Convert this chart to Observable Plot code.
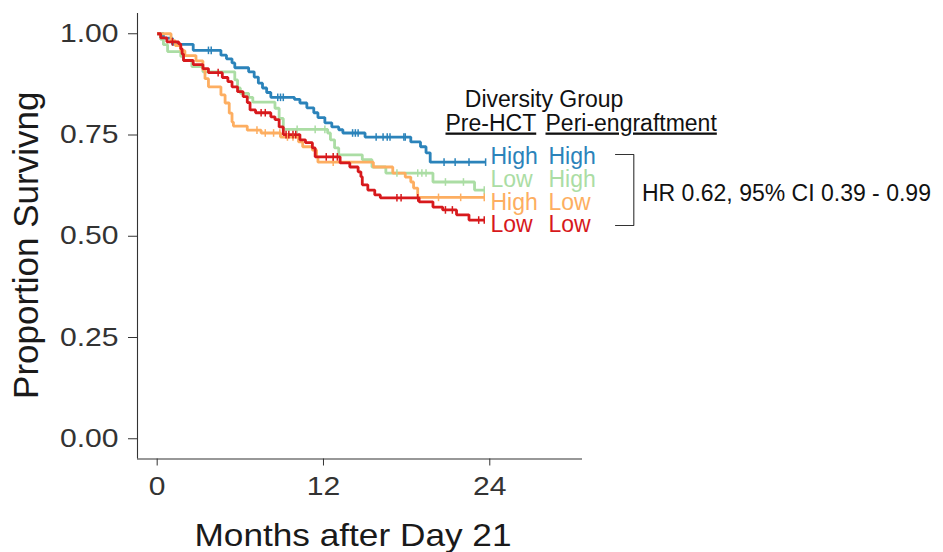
<!DOCTYPE html>
<html><head><meta charset="utf-8">
<script src="https://cdn.jsdelivr.net/npm/d3@7"></script>
<script src="https://cdn.jsdelivr.net/npm/@observablehq/plot@0.6"></script>
<style>body{margin:0;background:#fff}</style>
</head><body><div id="chart"></div>
<script>
// ---- data ----
const groups = ["High High", "Low High", "High Low", "Low Low"];
const preLabels = ["High", "Low", "High", "Low"];
const periLabels = ["High", "High", "Low", "Low"];
const colors = ["#2B83BA", "#ABDDA4", "#FDAE61", "#D7191C"];
const xTicks = [0, 12, 24];
const yTicks = [0, 0.25, 0.5, 0.75, 1];
const headerText = "Diversity Group";
const subHeaders = ["Pre-HCT", "Peri-engraftment"];
const hrText = "HR 0.62, 95% CI 0.39 - 0.99";
const xTitle = "Months after Day 21";
const yTitle = "Proportion Survivng";

// High/High (blue)
const hhTimes = [0, 0.45, 1.1, 2.6, 4.6, 5.0, 5.4, 5.6, 6.6, 7.0, 7.3, 7.6, 7.9, 8.2, 9.9, 10.3, 10.8, 11.3, 11.6, 12.1, 12.6, 13.1, 13.4, 15.0, 18.3, 19.0, 19.4, 19.7];
const hhSurv  = [1.000, 0.989, 0.974, 0.959, 0.947, 0.938, 0.928, 0.916, 0.906, 0.893, 0.878, 0.866, 0.855, 0.843, 0.838, 0.829, 0.817, 0.805, 0.793, 0.780, 0.770, 0.763, 0.755, 0.745, 0.733, 0.721, 0.706, 0.683];
const hhCensor = [3.7, 3.9, 8.7, 8.9, 9.1, 14.1, 14.3, 14.5, 15.8, 16.3, 16.6, 16.8, 17.8, 17.9, 20.7, 21.5, 22.5, 23.7];
const hhEnd = 23.7;

// Low/High (green)
const lhTimes = [0, 0.25, 0.45, 0.75, 1.7, 1.9, 2.5, 3.3, 5.6, 5.8, 6.0, 6.6, 6.9, 8.5, 8.8, 9.1, 12.3, 12.5, 12.8, 13.1, 14.8, 15.5, 16.5, 19.9, 22.9];
const lhSurv  = [1.000, 0.986, 0.973, 0.956, 0.944, 0.934, 0.919, 0.906, 0.886, 0.866, 0.853, 0.843, 0.831, 0.816, 0.791, 0.764, 0.755, 0.738, 0.718, 0.701, 0.689, 0.671, 0.656, 0.634, 0.614];
const lhCensor = [10.1, 11.4, 12.1, 17.3, 18.8, 19.1, 19.4, 20.8, 22.1, 23.6];
const lhEnd = 23.6;

// High/Low (orange)
const hlTimes = [0, 1.0, 1.3, 1.7, 2.0, 2.8, 3.3, 3.45, 3.7, 4.6, 4.9, 5.2, 5.4, 5.5, 6.5, 7.5, 8.9, 10.2, 10.5, 11.2, 11.5, 11.6, 15.6, 17.0, 17.9, 18.3, 18.5, 18.8];
const hlSurv  = [1.000, 0.983, 0.971, 0.958, 0.946, 0.933, 0.911, 0.889, 0.869, 0.849, 0.829, 0.804, 0.782, 0.772, 0.762, 0.755, 0.745, 0.733, 0.721, 0.713, 0.696, 0.683, 0.671, 0.656, 0.646, 0.634, 0.619, 0.596];
const hlCensor = [7.2, 7.8, 8.4, 8.85, 9.4, 9.8, 12.7, 20.3, 21.9, 23.6];
const hlEnd = 23.6;

// Low/Low (red)
const llTimes = [0, 0.25, 0.7, 1.55, 1.7, 1.8, 1.9, 2.6, 3.3, 3.7, 4.7, 5.1, 5.4, 5.8, 6.2, 6.5, 6.7, 7.1, 8.2, 8.5, 8.8, 9.1, 10.3, 10.7, 11.2, 11.4, 13.2, 13.9, 14.5, 14.7, 14.8, 15.2, 15.7, 16.1, 18.9, 19.9, 20.6, 21.6, 22.5];
const llSurv  = [1.000, 0.990, 0.980, 0.975, 0.963, 0.950, 0.934, 0.924, 0.914, 0.904, 0.892, 0.882, 0.869, 0.857, 0.845, 0.830, 0.812, 0.805, 0.795, 0.788, 0.770, 0.751, 0.738, 0.731, 0.718, 0.696, 0.681, 0.671, 0.659, 0.647, 0.627, 0.614, 0.602, 0.595, 0.585, 0.572, 0.565, 0.553, 0.540];
const llCensor = [1.1, 4.4, 7.5, 7.8, 9.3, 9.5, 9.8, 10.0, 12.2, 12.7, 13.0, 17.3, 17.6, 18.8, 20.8, 21.3, 23.2, 23.6];
const llEnd = 23.6;

// ---- build tables ----
const series = [
  {g: groups[0], t: hhTimes, s: hhSurv, c: hhCensor, end: hhEnd},
  {g: groups[1], t: lhTimes, s: lhSurv, c: lhCensor, end: lhEnd},
  {g: groups[2], t: hlTimes, s: hlSurv, c: hlCensor, end: hlEnd},
  {g: groups[3], t: llTimes, s: llSurv, c: llCensor, end: llEnd}
];
const steps = [], censors = [];
for (const d of series) {
  d.t.forEach((t, i) => steps.push({group: d.g, time: t, surv: d.s[i]}));
  steps.push({group: d.g, time: d.end, surv: d.s[d.s.length - 1]});
  for (const c of d.c) {
    let v = d.s[0];
    d.t.forEach((t, i) => { if (t <= c) v = d.s[i]; });
    censors.push({group: d.g, time: c, surv: v});
  }
}

// ---- layout ----
const W = 943, H = 552;
const mL = 137, mR = 361, mT = 13, mB = 93.5;
const xDom = [-1.42, 30.69], yDom = [-0.05, 1.05];
const X = px => xDom[0] + (px - mL) / (W - mR - mL) * (xDom[1] - xDom[0]);
const Y = py => yDom[1] - (py - mT) / (H - mB - mT) * (yDom[1] - yDom[0]);
const rowBase = [163.5, 186.5, 209, 231];
const font = "Liberation Sans, Arial, Helvetica, sans-serif";

const vbar = {draw(ctx, size) { const r = Math.sqrt(size / Math.PI); ctx.moveTo(0, -r); ctx.lineTo(0, r); }};

const svg = Plot.plot({
  width: W, height: H,
  marginLeft: mL, marginRight: mR, marginTop: mT, marginBottom: mB,
  style: {fontFamily: font, background: "white"},
  x: {domain: xDom},
  y: {domain: yDom},
  color: {domain: groups, range: colors},
  marks: [
    Plot.ruleX([xDom[0]], {stroke: "#333", strokeWidth: 1.1}),
    Plot.ruleY([yDom[0]], {stroke: "#333", strokeWidth: 1.1}),
    Plot.axisX({ticks: xTicks, tickSize: 7, tickPadding: 11, fontSize: 25.5, color: "#333", label: null, tickFormat: d3.format("d")}),
    Plot.axisY({ticks: yTicks, tickSize: 9, tickPadding: 10, fontSize: 25.5, color: "#333", label: null, tickFormat: d3.format(".2f")}),
    Plot.line(steps, {x: "time", y: "surv", z: "group", stroke: "group", curve: "step-after", strokeWidth: 2.8, strokeLinejoin: "miter", strokeLinecap: "butt"}),
    Plot.dot(censors, {x: "time", y: "surv", stroke: "group", fill: "none", symbol: vbar, r: 3.8, strokeWidth: 1.5}),
    Plot.text([xTitle], {frameAnchor: "bottom", textAnchor: "middle", dx: -7, dy: 86.5, lineAnchor: "bottom", fontSize: 32, fill: "#1a1a1a", ariaDescription: "xtitle"}),
    Plot.text([yTitle], {frameAnchor: "left", textAnchor: "middle", dx: -100, dy: 9, rotate: -90, lineAnchor: "bottom", fontSize: 35, fill: "#1a1a1a"}),
    Plot.text([headerText], {x: X(543.5), y: Y(106.7), textAnchor: "middle", lineAnchor: "bottom", fontSize: 23, fill: "#111"}),
    Plot.text(subHeaders, {x: (d, i) => X(i === 0 ? 445 : 545), y: Y(130), textAnchor: "start", lineAnchor: "bottom", fontSize: 23, fill: "#111", ariaDescription: "subheader"}),
    Plot.text(preLabels, {x: X(490), y: (d, i) => Y(rowBase[i]), fill: (d, i) => groups[i], textAnchor: "start", lineAnchor: "bottom", fontSize: 23}),
    Plot.text(periLabels, {x: X(548), y: (d, i) => Y(rowBase[i]), fill: (d, i) => groups[i], textAnchor: "start", lineAnchor: "bottom", fontSize: 23}),
    Plot.line([[X(615), Y(154)], [X(633.3), Y(154)], [X(633.3), Y(225)], [X(615), Y(225)]], {stroke: "#333", strokeWidth: 1.1, strokeLinejoin: "miter"}),
    Plot.text([hrText], {x: X(641.5), y: Y(200), textAnchor: "start", lineAnchor: "bottom", fontSize: 23, fill: "#111"})
  ]
});
document.getElementById("chart").append(svg);

const stretch = (sel, f) => svg.querySelectorAll(sel).forEach(t => {
  const L = t.getComputedTextLength();
  t.setAttribute("textLength", (L * f).toFixed(1));
  t.setAttribute("lengthAdjust", "spacingAndGlyphs");
});
stretch('g[aria-label="x-axis tick label"] text', 1.18);
stretch('g[aria-label="y-axis tick label"] text', 1.18);
stretch('g[aria-description="xtitle"] text', 1.1);
svg.querySelectorAll('g[aria-description="subheader"] text').forEach(t => {
  t.style.textDecoration = "underline";
  t.setAttribute("text-decoration", "underline");
});
</script>
</body></html>
